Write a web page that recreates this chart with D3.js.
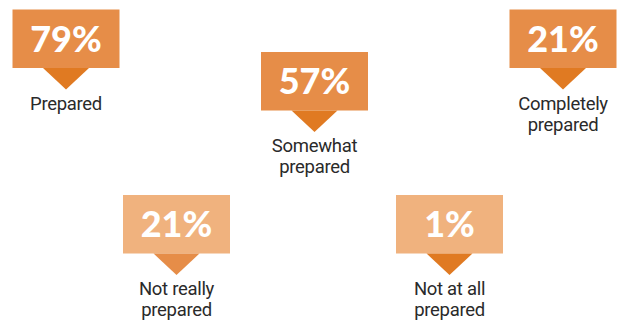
<!DOCTYPE html>
<html>
<head>
<meta charset="utf-8">
<script src="https://cdn.jsdelivr.net/npm/d3@7/dist/d3.min.js"></script>
<style>
  html, body { margin: 0; padding: 0; background: #ffffff; }
  svg { display: block; }
</style>
</head>
<body>
<svg id="chart" width="625" height="325"></svg>
<script>
// Survey shares: how prepared respondents feel
const categories = ["Prepared", "Somewhat prepared", "Completely prepared", "Not really prepared", "Not at all prepared"];
const values = [79, 57, 21, 21, 1];
const labelLines = [["Prepared"], ["Somewhat", "prepared"], ["Completely", "prepared"], ["Not really", "prepared"], ["Not at all", "prepared"]];
const tiers = ["upper", "middle", "upper", "lower", "lower"];

const svg = d3.select("#chart");

// Horizontal placement: upper/middle row and lower row each spread on their own point scale
const upperRow = categories.filter((c, i) => tiers[i] !== "lower");
const lowerRow = categories.filter((c, i) => tiers[i] === "lower");
const xUpper = d3.scalePoint().domain(upperRow).range([66, 563]);
const xLower = d3.scalePoint().domain(lowerRow).range([176.5, 449.5]);
const xPos = c => (lowerRow.includes(c) ? xLower(c) : xUpper(c));

// Vertical placement of each tier (top edge of the callout box)
const yTier = d3.scaleOrdinal().domain(["upper", "middle", "lower"]).range([9.5, 52, 195]);

const boxW = 107, boxH = 58.5, triW = 46, triH = 21.5;

const boxColor = d3.scaleOrdinal().domain(["upper", "middle", "lower"]).range(["#E68D48", "#E68D48", "#F0B27E"]);
const pointerColor = d3.scaleOrdinal().domain(categories).range(["#E07A22", "#E07A22", "#E07A22", "#E68D48", "#E07A22"]);

const rows = categories.map((c, i) => ({ cat: c, value: values[i], lines: labelLines[i], tier: tiers[i] }));

const g = svg.selectAll("g.callout").data(rows).join("g")
  .attr("class", "callout")
  .attr("transform", d => `translate(${xPos(d.cat)},${yTier(d.tier)})`);

g.append("rect")
  .attr("x", -boxW / 2).attr("y", 0)
  .attr("width", boxW).attr("height", boxH)
  .attr("fill", d => boxColor(d.tier));

g.append("path")
  .attr("d", `M${-triW / 2},${boxH}L${triW / 2},${boxH}L0,${boxH + triH}Z`)
  .attr("fill", d => pointerColor(d.cat));

g.append("text")
  .attr("x", 0).attr("y", boxH / 2 + 13)
  .attr("text-anchor", "middle")
  .attr("fill", "#ffffff")
  .style("font-family", "Lato, 'Open Sans', sans-serif")
  .style("font-weight", 900)
  .style("font-size", "36px")
  .text(d => d3.format("d")(d.value) + "%");

g.each(function(d) {
  const t = d3.select(this).append("text")
    .attr("text-anchor", "middle")
    .attr("fill", "#2a2a2a")
    .style("font-family", "Roboto, 'Open Sans', sans-serif")
    .style("font-weight", 400)
    .style("font-size", "18.5px")
    .style("letter-spacing", "-0.3px");
  d.lines.forEach((line, k) => {
    t.append("tspan")
      .attr("x", 0)
      .attr("y", boxH + triH + 20 + k * 21)
      .text(line);
  });
});
</script>
</body>
</html>
